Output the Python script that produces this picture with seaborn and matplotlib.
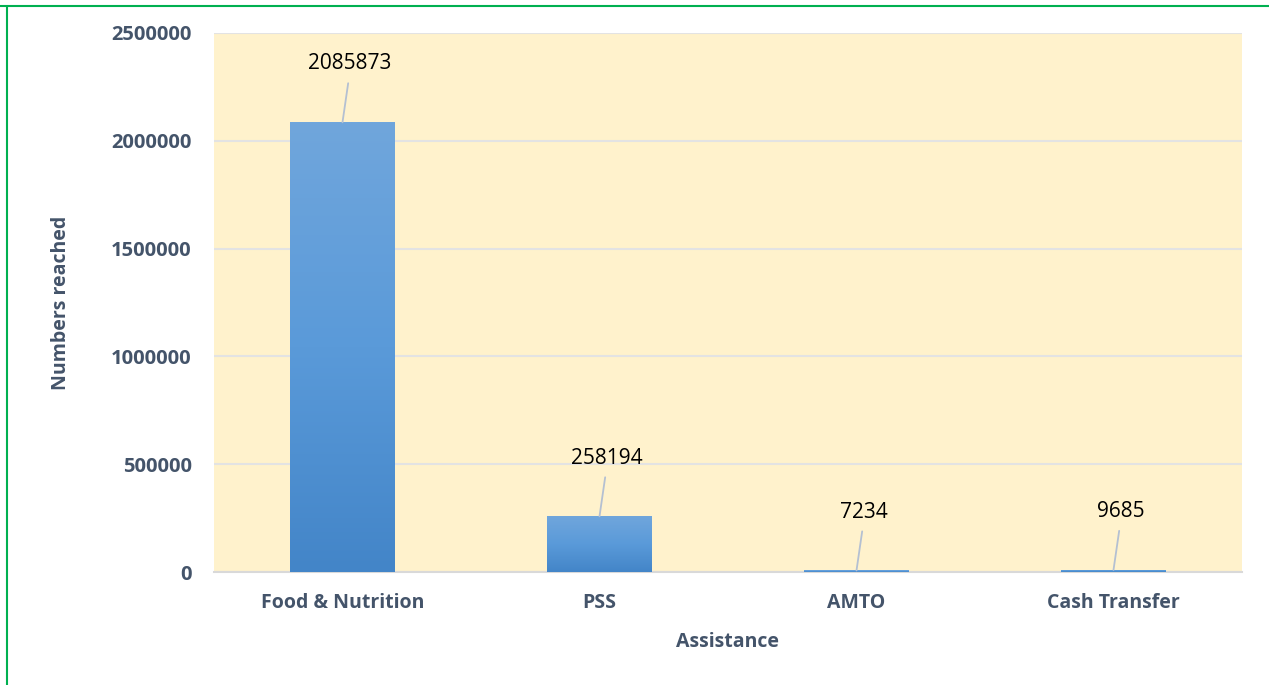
import numpy as np
import pandas as pd
import matplotlib
matplotlib.use("Agg")
import matplotlib.pyplot as plt
from matplotlib.colors import LinearSegmentedColormap
from matplotlib.lines import Line2D
import seaborn as sns

# Data
categories = ["Food & Nutrition", "PSS", "AMTO", "Cash Transfer"]
reached = [2085873, 258194, 7234, 9685]

df = pd.DataFrame({"Assistance": categories, "Numbers reached": reached})

sns.set_style("whitegrid")
plt.rcParams["font.family"] = ["Open Sans", "DejaVu Sans"]

fig, ax = plt.subplots(figsize=(12.69, 6.85), dpi=100)
fig.subplots_adjust(left=214 / 1269, right=1242 / 1269, top=1 - 33 / 685, bottom=1 - 572 / 685)

sns.barplot(data=df, x="Assistance", y="Numbers reached", color="#5b9bd5",
            width=0.405, saturation=1, ax=ax, zorder=2)

# gradient fill on the bars
cmap = LinearSegmentedColormap.from_list("bar", ["#4385c8", "#5a9ad9", "#70a6dc"])
grad = np.linspace(0, 1, 256).reshape(-1, 1)
for p in ax.patches:
    x0, y0 = p.get_x(), p.get_y()
    w, h = p.get_width(), p.get_height()
    im = ax.imshow(grad, cmap=cmap, origin="lower", aspect="auto",
                   extent=[x0, x0 + w, y0, y0 + h], zorder=3)
    im.set_clip_path(p)
    p.set_edgecolor("none")

# value labels with leader lines
for i, v in enumerate(reached):
    ax.annotate(str(v), xy=(i, v), xytext=(5, 42), textcoords="offset points",
                ha="center", va="center", fontsize=15, color="black",
                arrowprops=dict(arrowstyle="-", color="#b4c0d2", lw=1.3,
                                relpos=(0.5, 0), shrinkA=4, shrinkB=0),
                zorder=5)

ax.set_facecolor("#fff2cc")
ax.set_xlim(-0.5, 3.5)
ax.set_ylim(0, 2500000)
ax.set_yticks(np.arange(0, 2500001, 500000))
ax.set_yticklabels([str(t) for t in range(0, 2500001, 500000)])
ax.grid(axis="y", color="#e3e3e3", linewidth=1.5, zorder=0)
ax.grid(axis="x", visible=False)
for s in ["left", "right", "top"]:
    ax.spines[s].set_visible(False)
ax.spines["bottom"].set_color("#d9d9d9")
ax.spines["bottom"].set_linewidth(1.5)
ax.tick_params(axis="y", length=0, labelcolor="#44546a", labelsize=14.5, pad=16)
ax.tick_params(axis="x", length=0, labelcolor="#44546a", labelsize=14, pad=15)
for lab in ax.get_xticklabels() + ax.get_yticklabels():
    lab.set_fontweight("bold")

ax.set_xlabel("Assistance", fontsize=14, fontweight="bold", color="#44546a", labelpad=14)
ax.set_ylabel("Numbers reached", fontsize=14, fontweight="bold", color="#44546a", labelpad=29)

# green frame of the original slide
fig.add_artist(Line2D([0, 1], [1 - 6 / 685, 1 - 6 / 685], color="#00b050", lw=1.5,
                      transform=fig.transFigure))
fig.add_artist(Line2D([7 / 1269, 7 / 1269], [0, 1 - 6 / 685], color="#00b050", lw=1.5,
                      transform=fig.transFigure))

fig.savefig("out.png", dpi=100)
